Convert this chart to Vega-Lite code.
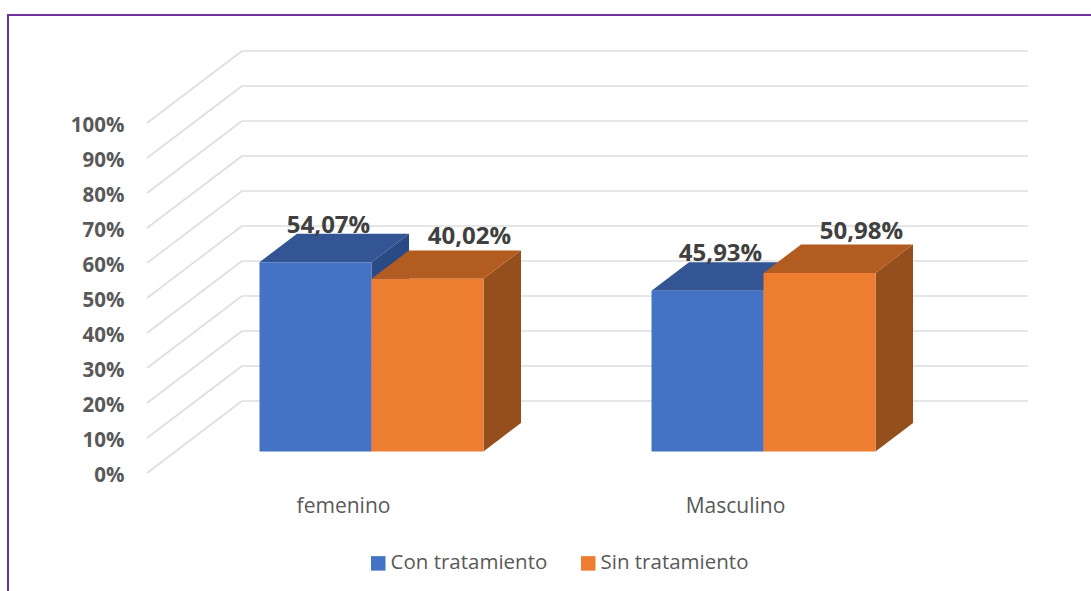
{
"$schema":"https://vega.github.io/schema/vega-lite/v6.json",
"width":1084,"height":577,
"autosize":{"type":"none"},
"padding":{"left":8,"top":15,"right":-1,"bottom":-1},
"background":"white",
"view":{"stroke":"#7030A0","strokeWidth":2,"fill":null},
"config":{"font":"Open Sans"},
"datasets":{
"barras":[
{"sexo":"femenino","serie":"Con tratamiento","valor":"54,07%","altura":54.07},
{"sexo":"femenino","serie":"Sin tratamiento","valor":"40,02%","altura":49.3},
{"sexo":"Masculino","serie":"Con tratamiento","valor":"45,93%","altura":45.93},
{"sexo":"Masculino","serie":"Sin tratamiento","valor":"50,98%","altura":50.98}
],
"rejilla":[{"pct":0},{"pct":10},{"pct":20},{"pct":30},{"pct":40},{"pct":50},{"pct":60},{"pct":70},{"pct":80},{"pct":90},{"pct":100}]
},
"encoding":{
"x":{"field":"px","type":"quantitative","title":null,
"scale":{"domain":[-0.5,1.5],"range":[139,923],"nice":false,"zero":false},
"axis":{"values":[0,1],"labelExpr":"datum.value==0?'femenino':'Masculino'","domain":false,"ticks":false,"grid":false,"labelFont":"Open Sans","labelFontSize":21,"labelColor":"#595959","labelPadding":0,"labelBaseline":"top","offset":-97}},
"y":{"field":"py","type":"quantitative","title":null,
"scale":{"domain":[0,100],"range":[458,108],"nice":false,"zero":false},
"axis":{"values":[0,10,20,30,40,50,60,70,80,90,100],"labelExpr":"datum.value+'%'","domain":false,"ticks":false,"grid":false,"labelFont":"Open Sans","labelFontWeight":"bold","labelFontSize":20.5,"labelColor":"#595959","labelPadding":0,"labelOffset":2,"offset":-116}}
},
"layer":[
{"data":{"name":"rejilla"},
"transform":[{"calculate":"-0.5","as":"px"},{"calculate":"-0.2577","as":"px2"},{"calculate":"datum.pct","as":"py"},{"calculate":"datum.pct+20.57","as":"py2"}],
"mark":{"type":"rule","color":"#DEDEDE","strokeWidth":1.6},
"encoding":{"x2":{"field":"px2"},"y2":{"field":"py2"}}},
{"data":{"name":"rejilla"},
"transform":[{"calculate":"-0.2577","as":"px"},{"calculate":"1.7475","as":"px2"},{"calculate":"datum.pct+20.57","as":"py"}],
"mark":{"type":"rule","color":"#DEDEDE","strokeWidth":1.6},
"encoding":{"x2":{"field":"px2"}}},
{"data":{"name":"barras"},
"transform":[
{"calculate":"[0.3,0.695]","as":"d"},{"flatten":["d"]},
{"calculate":"(datum.sexo=='femenino'?0:1)+(datum.serie=='Con tratamiento'?0:0.2857)+datum.d*0.24235","as":"px"},
{"calculate":"datum.altura+datum.d*20.57","as":"py"},
{"calculate":"datum.d*20.57","as":"py2"},
{"calculate":"datum.sexo+datum.serie","as":"clave"}],
"mark":{"type":"area","orient":"vertical"},
"encoding":{"y2":{"field":"py2"},"detail":{"field":"clave"},
"color":{"condition":{"test":"datum.serie=='Con tratamiento'","value":"#2A4A85"},"value":"#954F1C"}}},
{"data":{"name":"barras"},
"transform":[
{"calculate":"[0.3,0.695]","as":"d"},{"flatten":["d"]},
{"calculate":"(datum.sexo=='femenino'?0:1)+(datum.serie=='Con tratamiento'?-0.2857:0)+datum.d*0.24235","as":"px"},
{"calculate":"datum.px+0.2857","as":"px2"},
{"calculate":"datum.altura+datum.d*20.57","as":"py"},
{"calculate":"datum.sexo+datum.serie","as":"clave"}],
"mark":{"type":"area","orient":"horizontal"},
"encoding":{"x2":{"field":"px2"},"detail":{"field":"clave"},
"color":{"condition":{"test":"datum.serie=='Con tratamiento'","value":"#335593"},"value":"#B25C22"}}},
{"data":{"name":"barras"},
"transform":[
{"calculate":"(datum.sexo=='femenino'?0:1)+(datum.serie=='Con tratamiento'?-0.2857:0)+0.3*0.24235","as":"px"},
{"calculate":"datum.px+0.2857","as":"px2"},
{"calculate":"datum.altura+0.3*20.57","as":"py"},
{"calculate":"0.3*20.57","as":"py2"}],
"mark":{"type":"rect"},
"encoding":{"x2":{"field":"px2"},"y2":{"field":"py2"},
"color":{"field":"serie","type":"nominal",
"scale":{"domain":["Con tratamiento","Sin tratamiento"],"range":["#4472C4","#ED7D31"]},
"legend":{"title":null,"orient":"none","legendX":360,"legendY":538,"direction":"horizontal","symbolType":"square","symbolSize":210,"symbolStrokeWidth":0,"labelFont":"Open Sans","labelFontSize":20.5,"labelLimit":300,"labelColor":"#595959","labelOffset":2,"columnPadding":30}}}},
{"data":{"name":"barras"},
"transform":[
{"calculate":"(datum.sexo=='femenino'?0:1)+(datum.serie=='Con tratamiento'?-0.1428+13/392:0.1428+42/392)+0.3*0.24235","as":"px"},
{"calculate":"datum.altura+0.695*20.57+(datum.serie=='Con tratamiento'?1:6)/3.5","as":"py"}],
"mark":{"type":"text","align":"center","baseline":"alphabetic","font":"Open Sans","fontWeight":"bold","fontSize":24,"color":"#404040"},
"encoding":{"text":{"field":"valor"}}}
]
}
